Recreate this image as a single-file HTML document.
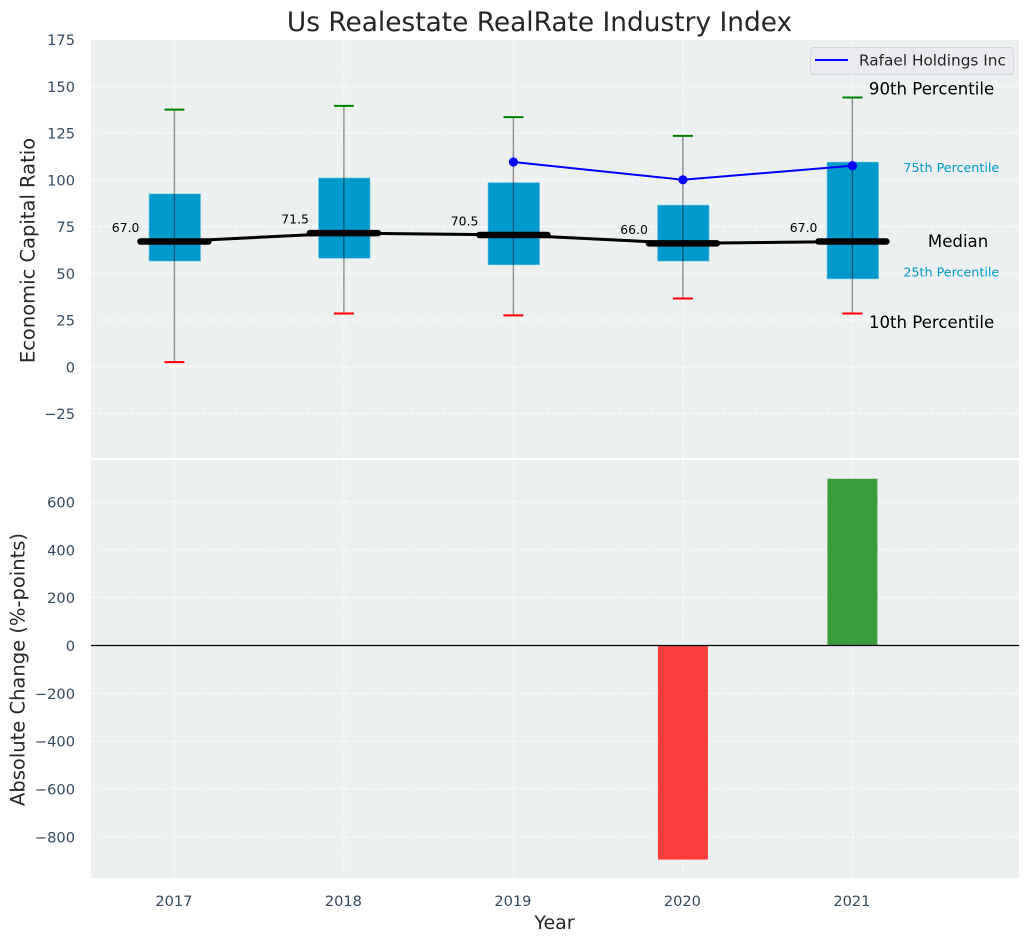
<!DOCTYPE html>
<html lang="en">
<head>
<meta charset="utf-8">
<title>Us Realestate RealRate Industry Index</title>
<style>
html,body{margin:0;padding:0;background:#fff;}
svg{display:block;font-family:"DejaVu Sans","Liberation Sans",sans-serif;}
</style>
</head>
<body>
<svg id="chart" xmlns="http://www.w3.org/2000/svg" width="1029" height="942" viewBox="0 0 1029 942">
  <rect x="0" y="0" width="1029" height="942" fill="#ffffff"/>
  <rect x="91" y="40" width="928" height="418" fill="#ecf0f1"/>
  <rect x="91" y="460" width="928" height="418" fill="#ecf0f1"/>
  <g id="grid"></g>
  <g id="bars"></g>
  <g id="boxes"></g>
  <g id="series"></g>
  <g id="labels"></g>
  <text x="539.5" y="31" text-anchor="middle" font-size="26.4" fill="#262626">Us Realestate RealRate Industry Index</text>
  <text transform="translate(34.5,250.5) rotate(-90)" text-anchor="middle" font-size="19.5" fill="#262626">Economic Capital Ratio</text>
  <text transform="translate(24.5,669.5) rotate(-90)" text-anchor="middle" font-size="19.5" fill="#262626">Absolute Change (%-points)</text>
  <text x="554.5" y="929" text-anchor="middle" font-size="19" fill="#262626">Year</text>
  <g>
    <rect x="810.5" y="47.5" width="203" height="27" rx="3" fill="#e9ebef" stroke="#d6d8dc" stroke-width="1"/>
    <line x1="815" y1="60" x2="848" y2="60" stroke="#0000ff" stroke-width="2"/>
    <text x="859" y="65.5" font-size="15.3" fill="#262626">Rafael Holdings Inc</text>
  </g>
</svg>
<script>
var years = ['2017', '2018', '2019', '2020', '2021'];
var p90 = [137.5, 139.5, 133.5, 123.5, 144];
var q3 = [92.5, 101, 98.5, 86.5, 109.5];
var medians = [67, 71.5, 70.5, 66, 67];
var q1 = [56.5, 58, 54.5, 56.5, 47];
var p10 = [2.5, 28.5, 27.5, 36.5, 28.5];
var company = [null, null, 109.5, 100, 107.5];
var changes = [0, 0, 0, -895, 697];
var topTicks = [175, 150, 125, 100, 75, 50, 25, 0, -25];
var bottomTicks = [600, 400, 200, 0, -200, -400, -600, -800];

var NS = 'http://www.w3.org/2000/svg';
function xAt(i) { return 174.4 + 169.5 * i; }
function yTop(v) { return 366.8 - 1.87 * v; }
function yBottom(v) { return 645.5 - 0.2392 * v; }
function make(parent, tag, attrs, text) {
  var el = document.createElementNS(NS, tag);
  for (var k in attrs) { el.setAttribute(k, attrs[k]); }
  if (text !== undefined) { el.textContent = text; }
  parent.appendChild(el);
  return el;
}
function minus(v) { return String(v).replace('-', '\u2212'); }

var gridG = document.getElementById('grid');
var barsG = document.getElementById('bars');
var boxesG = document.getElementById('boxes');
var seriesG = document.getElementById('series');
var labelsG = document.getElementById('labels');
var gridStyle = { stroke: '#ffffff', 'stroke-width': 1, 'stroke-dasharray': '4.5 2', 'stroke-opacity': 0.9 };
function gridAttrs(a) {
  for (var k in gridStyle) { a[k] = gridStyle[k]; }
  return a;
}

topTicks.forEach(function (t) {
  var y = yTop(t);
  if (t !== 175) {
    var g = make(gridG, 'line', gridAttrs({ x1: 91, x2: 1019, y1: y, y2: y }));
    
    
  }
  var lab = make(labelsG, 'text', { x: 75, y: y + 5.5, 'text-anchor': 'end', 'font-size': 14.6, fill: '#34495e' }, minus(t));
  
  
});

bottomTicks.forEach(function (t) {
  var y = yBottom(t);
  var g = make(gridG, 'line', gridAttrs({ x1: 91, x2: 1019, y1: y, y2: y }));
  
  
  var lab = make(labelsG, 'text', { x: 75, y: y + 5.5, 'text-anchor': 'end', 'font-size': 14.6, fill: '#34495e' }, minus(t));
  
  
});

years.forEach(function (yr, i) {
  var x = xAt(i);
  var g1 = make(gridG, 'line', gridAttrs({ x1: x, x2: x, y1: 40, y2: 458 }));
  
  
  var g2 = make(gridG, 'line', gridAttrs({ x1: x, x2: x, y1: 460, y2: 878 }));
  
  
  var lab = make(labelsG, 'text', { x: x - 0.5, y: 906, 'text-anchor': 'middle', 'font-size': 14.6, fill: '#34495e' }, yr);
  
  
});

changes.forEach(function (c, i) {
  if (c === 0) { return; }
  var y0 = yBottom(0);
  var y1 = yBottom(c);
  var bar = make(barsG, 'rect', {
    x: xAt(i) - 25, width: 50,
    y: Math.min(y0, y1), height: Math.abs(y1 - y0),
    fill: c < 0 ? '#ff0000' : '#008000', 'fill-opacity': 0.75
  });
  
  
});

var zero = make(barsG, 'line', { x1: 91, x2: 1019, y1: yBottom(0), y2: yBottom(0), stroke: '#000000', 'stroke-width': 1.2 });



years.forEach(function (yr, i) {
  var x = xAt(i);
  var box = make(boxesG, 'rect', {
    x: x - 25.4, width: 51.6, y: yTop(q3[i]), height: yTop(q1[i]) - yTop(q3[i]),
    fill: '#0099cc', stroke: '#7fcce5', 'stroke-width': 0.6
  });
  
  
  var wh = make(boxesG, 'line', { x1: x, x2: x, y1: yTop(p90[i]), y2: yTop(p10[i]), stroke: '#000000', 'stroke-opacity': 0.42, 'stroke-width': 1.4 });
  
  
  var capHi = make(boxesG, 'line', { x1: x - 10, x2: x + 10, y1: yTop(p90[i]), y2: yTop(p90[i]), stroke: '#008000', 'stroke-width': 2 });
  
  
  var capLo = make(boxesG, 'line', { x1: x - 10, x2: x + 10, y1: yTop(p10[i]), y2: yTop(p10[i]), stroke: '#ff0000', 'stroke-width': 2 });
  
  
});

var medPts = medians.map(function (m, i) { return xAt(i) + ',' + yTop(m); }).join(' ');
var medLine = make(seriesG, 'polyline', { points: medPts, fill: 'none', stroke: '#000000', 'stroke-width': 3 });



medians.forEach(function (m, i) {
  var x = xAt(i);
  var y = yTop(m);
  var seg = make(seriesG, 'line', { x1: x - 34, x2: x + 34, y1: y, y2: y, stroke: '#000000', 'stroke-width': 6.5, 'stroke-linecap': 'round' });
  
  
  var lab = make(seriesG, 'text', { x: x - 35, y: y - 9.5, 'text-anchor': 'end', 'font-size': 12.4, fill: '#000000' }, m.toFixed(1));
  
  
});

var companyPts = [];
company.forEach(function (v, i) {
  if (v !== null) { companyPts.push(xAt(i) + ',' + yTop(v)); }
});
var coLine = make(seriesG, 'polyline', { points: companyPts.join(' '), fill: 'none', stroke: '#0000ff', 'stroke-width': 2 });


company.forEach(function (v, i) {
  if (v === null) { return; }
  var pt = make(seriesG, 'circle', { cx: xAt(i), cy: yTop(v), r: 4.6, fill: '#0000ff' });
  
  
});

var last = years.length - 1;
var lx = xAt(last);
var a90 = make(seriesG, 'text', { x: lx + 16.5, y: yTop(p90[last]) - 3, 'font-size': 16.6, fill: '#000000' }, '90th Percentile');


var a75 = make(seriesG, 'text', { x: lx + 51, y: yTop(q3[last]) + 10, 'font-size': 12.7, fill: '#0099cc' }, '75th Percentile');


var aMed = make(seriesG, 'text', { x: lx + 75.5, y: yTop(medians[last]) + 5.5, 'font-size': 16.6, fill: '#000000' }, 'Median');


var a25 = make(seriesG, 'text', { x: lx + 51, y: yTop(q1[last]) - 2.5, 'font-size': 12.7, fill: '#0099cc' }, '25th Percentile');


var a10 = make(seriesG, 'text', { x: lx + 16.5, y: yTop(p10[last]) + 14.5, 'font-size': 16.6, fill: '#000000' }, '10th Percentile');


</script>
</body>
</html>
